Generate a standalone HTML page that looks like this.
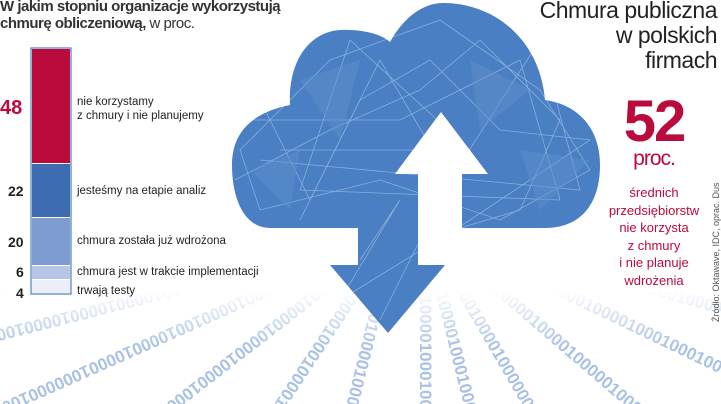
<!DOCTYPE html>
<html><head><meta charset="utf-8"><style>
html,body{margin:0;width:721px;height:404px;overflow:hidden;background:#fff;font-family:"Liberation Sans",sans-serif;position:relative}
.a{position:absolute;white-space:nowrap}
</style></head><body>
<svg width="721" height="404" style="position:absolute;left:0;top:0;overflow:hidden">
<defs>
<linearGradient id="g" x1="0" y1="0" x2="0" y2="1"><stop offset="0.72" stop-color="#fff" stop-opacity="0"/><stop offset="0.86" stop-color="#fff" stop-opacity="1"/></linearGradient>
<mask id="m"><rect width="721" height="404" fill="url(#g)"/></mask>
<clipPath id="all"><rect width="721" height="404"/></clipPath>
<clipPath id="cc"><path d="M270,228 C245,228 232,200 232,165 C232,130 255,112 290,105 C288,60 310,32 340,30 C365,29 382,35 390,42 C405,15 425,3 443,3 C495,3 540,40 545,100 C580,105 600,130 600,165 C600,205 580,228 545,228 Z M358,226 L418,226 L418,265 L445,265 L388,333 L330,265 L358,265Z"/></clipPath>
<path id="p1" d="M390,230 L-500,350"/><path id="p2" d="M390,230 L-400,430"/><path id="p3" d="M390,230 L-150,470"/><path id="p4" d="M390,230 L80,470"/><path id="p5" d="M390,230 L230,470"/><path id="p6" d="M390,230 L330,470"/><path id="p7" d="M420,230 L420,470"/><path id="p8" d="M420,230 L480,470"/><path id="p9" d="M420,230 L560,470"/><path id="p10" d="M420,230 L700,470"/><path id="p11" d="M420,230 L900,460"/><path id="p12" d="M420,230 L1100,420"/><path id="p13" d="M420,230 L1200,340"/>
</defs>
<g clip-path="url(#all)">
<g mask="url(#m)" fill="#a9c1e4" font-weight="bold" font-size="17" font-family="Liberation Sans">
<text><textPath href="#p1">010011010000100001000010011010000100001000001001101000010000100001001101000010000100000</textPath></text>
<text><textPath href="#p2">100100001000010001000010010000100001000010010000100001000100001001000010000100001001000</textPath></text>
<text><textPath href="#p3">000100001000010001000010010000100001000000100001000010001000010010000100001000000100001</textPath></text>
<text><textPath href="#p4">01000010000100001000010000100001000010000</textPath></text>
<text><textPath href="#p5">00100001000010001000010000100001000010000</textPath></text>
<text><textPath href="#p6">10000100001000010001000010000100001000</textPath></text>
<text><textPath href="#p7">01001011000010001000100101100001000100</textPath></text>
<text><textPath href="#p8">10011001000010001000100110010000100010</textPath></text>
<text><textPath href="#p9">00010100001000010000001010000100001000</textPath></text>
<text><textPath href="#p10">0100010000100001000010000010001000010000100001000</textPath></text>
<text><textPath href="#p11">1000100001000010000100001000100010000100001000010000100010</textPath></text>
<text><textPath href="#p12">000100001000010000100001000010000010000100001000010000100001000010000</textPath></text>
<text><textPath href="#p13">000100001000010000100001000010000010000100001000010000100001000010000100</textPath></text>
</g>
</g>
<g clip-path="url(#cc)">
<rect x="220" y="0" width="400" height="340" fill="#4a7fc3"/>
<g stroke="#bcd3f0" stroke-width="0.8" opacity="0.55" fill="none">
<path d="M240,150 L330,60 L440,20 L540,90 L590,170 L500,220 L380,180 L260,210 Z"/>
<path d="M250,120 L400,120 L520,60 L560,200 L300,190 L350,40 L470,150 L280,150"/>
<path d="M300,220 L360,100 L430,60 L500,130 L590,140 L470,220 L340,300 L400,200 L360,260"/>
<path d="M235,180 L330,130 L420,90 L480,40 L560,120 L520,210 L420,240 L380,320"/>
<path d="M260,100 L310,200 L380,60 L450,180 L540,40 L580,190 L260,160"/>
</g>
<g fill="#5f90cc" opacity="0.5"><path d="M300,80 L360,60 L340,140Z"/><path d="M470,60 L530,90 L480,130Z"/><path d="M250,170 L300,150 L290,210Z"/><path d="M520,150 L590,160 L540,210Z"/></g>
</g>
<polygon points="441,112 488,174 462,174 462,229 418,229 418,174 395,174" fill="#fff"/>
<rect x="31" y="48" width="40" height="246" fill="#fff" stroke="#4a7fc3" stroke-width="1.2"/>
<rect x="32" y="49" width="38" height="114" fill="#bb0a3c"/>
<rect x="32" y="164" width="38" height="53" fill="#3d6cb0"/>
<rect x="32" y="218" width="38" height="47" fill="#7f9cd1"/>
<rect x="32" y="266" width="38" height="13" fill="#b8c6e6"/>
<rect x="32" y="280" width="38" height="13" fill="#eceff8"/>
</svg>
<div class="a" style="left:0;top:-2px;font-size:15px;font-weight:bold;color:#333;line-height:17px;letter-spacing:-0.5px">W jakim stopniu organizacje wykorzystują<br>chmurę obliczeniową, <span style="font-weight:normal">w proc.</span></div>
<div class="a" style="left:0;top:97px;font-size:20px;font-weight:bold;color:#bb0a3c">48</div>
<div class="a" style="left:8px;top:183px;font-size:14px;font-weight:bold;color:#222">22</div>
<div class="a" style="left:8px;top:234px;font-size:14px;font-weight:bold;color:#222">20</div>
<div class="a" style="left:16px;top:264px;font-size:14px;font-weight:bold;color:#222">6</div>
<div class="a" style="left:16px;top:285px;font-size:14px;font-weight:bold;color:#222">4</div>
<div class="a" style="left:77px;top:95px;font-size:11.5px;color:#222;line-height:14px">nie korzystamy<br>z chmury i nie planujemy</div>
<div class="a" style="left:77px;top:185px;font-size:11.5px;color:#222">jesteśmy na etapie analiz</div>
<div class="a" style="left:77px;top:235px;font-size:11.5px;color:#222">chmura została już wdrożona</div>
<div class="a" style="left:77px;top:266px;font-size:11.5px;color:#222">chmura jest w trakcie implementacji</div>
<div class="a" style="left:77px;top:285px;font-size:11.5px;color:#222">trwają testy</div>
<div class="a" style="right:4px;top:-2px;font-size:23px;color:#222;text-align:right;line-height:25px;letter-spacing:-0.5px">Chmura publiczna<br>w polskich<br>firmach</div>
<div class="a" style="left:598px;width:112px;top:88px;font-size:58px;font-weight:bold;color:#bb0a3c;text-align:center;letter-spacing:-2px">52</div>
<div class="a" style="left:600px;width:108px;top:147px;font-size:21px;color:#bb0a3c;text-align:center;letter-spacing:-1px">proc.</div>
<div class="a" style="left:594px;width:120px;top:184px;font-size:13px;color:#bb0a3c;text-align:center;line-height:17.5px">średnich<br>przedsiębiorstw<br>nie korzysta<br>z chmury<br>i nie planuje<br>wdrożenia</div>
<div class="a" style="left:711px;top:322px;font-size:9px;color:#555;transform:rotate(-90deg);transform-origin:0 0">Źródło: Oktawave, IDC, oprac. Dus</div>
</body></html>
